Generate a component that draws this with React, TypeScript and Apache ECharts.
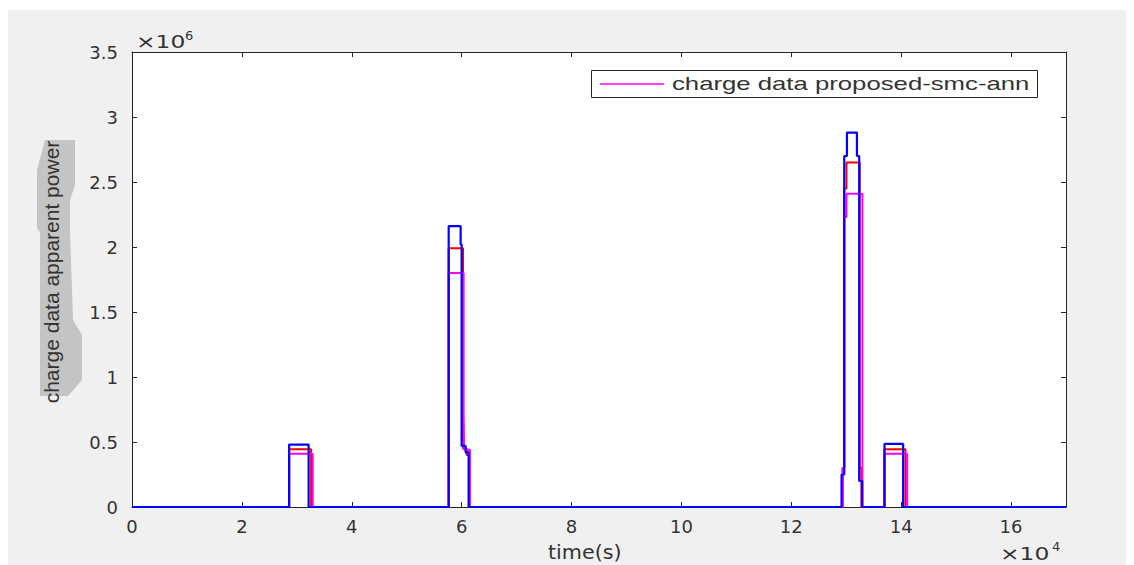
import React, { useEffect, useRef } from "react";
import * as echarts from "echarts";

// time in seconds, apparent power in VA
const blueTimes = [0, 28600, 32150, 57640, 59820, 60000, 60730, 61270, 129150, 129640, 130130, 131950, 132360, 132910, 136960, 140360, 170000];
const blueValues = [0, 480000, 0, 2160000, 2020000, 470000, 420000, 0, 250000, 2700000, 2880000, 2700000, 200000, 0, 485000, 0, 0];

const redTimes = [0, 28600, 32600, 57640, 60250, 60900, 61450, 129300, 129640, 130050, 132450, 132750, 136960, 140780, 170000];
const redValues = [0, 445000, 0, 1990000, 450000, 400000, 0, 300000, 2450000, 2650000, 300000, 0, 445000, 0, 0];

const magentaTimes = [0, 28600, 32900, 57640, 60360, 60450, 61500, 129400, 129640, 130050, 132950, 136960, 141090, 170000];
const magentaValues = [0, 410000, 0, 1800000, 750000, 440000, 0, 300000, 2230000, 2410000, 0, 410000, 0, 0];

const legendLabel = "charge data proposed-smc-ann";
const xTitle = "time(s)";
const yTitle = "charge data apparent power";
const xExponent = "4";
const yExponent = "6";

const pairs = (t: number[], v: number[]) => t.map((x, i) => [x, v[i]]);

const AX = "#262626";
const LBL = "#333333";
const FONT = "DejaVu Sans";

export default function App() {
  const ref = useRef<HTMLDivElement>(null);
  useEffect(() => {
    if (!ref.current) return;
    const chart = echarts.init(ref.current, null, { renderer: "svg" });
    const baseX = {
      type: "value",
      min: 0,
      max: 170000,
      interval: 20000,
      axisLine: { show: true, onZero: false, lineStyle: { color: AX, width: 1 } },
      axisTick: { show: true, inside: true, length: 5, lineStyle: { color: AX } },
      splitLine: { show: false },
    };
    const baseY = {
      type: "value",
      min: 0,
      max: 3500000,
      interval: 500000,
      axisLine: { show: true, onZero: false, lineStyle: { color: AX, width: 1 } },
      axisTick: { show: true, inside: true, length: 5, lineStyle: { color: AX } },
      splitLine: { show: false },
    };
    chart.setOption({
      animation: false,
      backgroundColor: "transparent",
      grid: {
        left: 132,
        top: 52,
        right: 68,
        bottom: 58,
        show: true,
        backgroundColor: "#ffffff",
        borderWidth: 0,
      },
      xAxis: [
        {
          ...baseX,
          position: "bottom",
          axisLabel: {
            formatter: (v: number) => (v % 20000 === 0 ? String(v / 10000) : ""),
            fontFamily: FONT,
            fontSize: 18,
            color: LBL,
            margin: 10,
          },
        },
        { ...baseX, position: "top", axisLabel: { show: false } },
      ],
      yAxis: [
        {
          ...baseY,
          position: "left",
          axisLabel: {
            formatter: (v: number) => String(v / 1000000),
            fontFamily: FONT,
            fontSize: 18,
            color: LBL,
            margin: 14,
          },
        },
        { ...baseY, position: "right", axisLabel: { show: false } },
      ],
      series: [
        {
          name: "red",
          type: "line",
          step: "end",
          symbol: "none",
          data: pairs(redTimes, redValues),
          lineStyle: { color: "#ff0000", width: 2 },
          xAxisIndex: 0,
          yAxisIndex: 0,
        },
        {
          name: legendLabel,
          type: "line",
          step: "end",
          symbol: "none",
          data: pairs(magentaTimes, magentaValues),
          lineStyle: { color: "#ff00ff", width: 2 },
          xAxisIndex: 0,
          yAxisIndex: 0,
        },
        {
          name: "blue",
          type: "line",
          step: "end",
          symbol: "none",
          data: pairs(blueTimes, blueValues),
          lineStyle: { color: "#0000ff", width: 2.2 },
          xAxisIndex: 0,
          yAxisIndex: 0,
        },
      ],
      graphic: [
        {
          type: "polygon",
          z: -5,
          silent: true,
          shape: {
            points: [
              [45, 140], [75, 140], [75, 185], [70, 200], [70, 230], [73, 320],
              [82, 335], [82, 380], [68, 396], [40, 396], [40, 232], [37, 228], [37, 170],
            ],
          },
          style: { fill: "#c4c4c4" },
        },
        {
          type: "text",
          x: 52,
          y: 272,
          rotation: Math.PI / 2,
          scaleX: 1.05,
          style: {
            text: yTitle,
            fontFamily: "Liberation Sans",
            fontSize: 20,
            fill: LBL,
            align: "center",
            verticalAlign: "middle",
          },
        },
        {
          type: "text",
          x: 548,
          y: 553,
          scaleX: 1.09,
          style: {
            text: xTitle,
            fontFamily: FONT,
            fontSize: 19,
            fill: LBL,
            align: "left",
            verticalAlign: "middle",
          },
        },
        {
          type: "text",
          x: 136,
          y: 42,
          scaleX: 1.3,
          style: { text: "×10", fontFamily: FONT, fontSize: 18, fill: LBL, align: "left", verticalAlign: "middle" },
        },
        {
          type: "text",
          x: 185,
          y: 35,
          style: { text: yExponent, fontFamily: FONT, fontSize: 13, fill: LBL, align: "left", verticalAlign: "middle" },
        },
        {
          type: "text",
          x: 1000,
          y: 554,
          scaleX: 1.3,
          style: { text: "×10", fontFamily: FONT, fontSize: 18, fill: LBL, align: "left", verticalAlign: "middle" },
        },
        {
          type: "text",
          x: 1052,
          y: 546,
          style: { text: xExponent, fontFamily: FONT, fontSize: 13, fill: LBL, align: "left", verticalAlign: "middle" },
        },
        {
          type: "rect",
          z: 10,
          shape: { x: 591.5, y: 70.5, width: 446, height: 27 },
          style: { fill: "#ffffff", stroke: AX, lineWidth: 1 },
        },
        {
          type: "line",
          z: 11,
          shape: { x1: 600, y1: 84, x2: 664, y2: 84 },
          style: { stroke: "#ff00ff", lineWidth: 1.5 },
        },
        {
          type: "text",
          z: 11,
          x: 672,
          y: 84,
          scaleX: 1.43,
          style: {
            text: legendLabel,
            fontFamily: "Liberation Sans",
            fontSize: 18,
            fill: LBL,
            align: "left",
            verticalAlign: "middle",
          },
        },
      ],
    });
    return () => chart.dispose();
  }, []);
  return (
    <div style={{ position: "absolute", left: 0, top: 0, width: 1134, height: 565, background: "#ffffff" }}>
      <div style={{ position: "absolute", left: 8, top: 10, width: 1118, height: 555, background: "#f0f0f0" }} />
      <div ref={ref} style={{ position: "absolute", left: 0, top: 0, width: 1134, height: 565 }} />
    </div>
  );
}
